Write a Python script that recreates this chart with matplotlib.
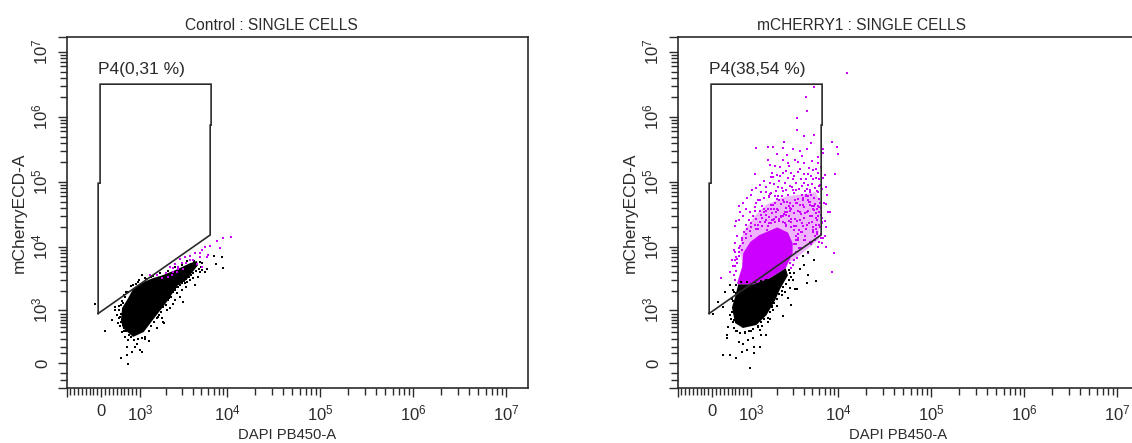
import numpy as np
import matplotlib
matplotlib.use("Agg")
import matplotlib.pyplot as plt
from matplotlib.ticker import FixedLocator, NullFormatter

plt.rcParams['font.family'] = ['Liberation Sans', 'DejaVu Sans']
plt.rcParams['mathtext.default'] = 'regular'

W, H = 1132, 443
INK = '#2b2b2b'
BLACK = '#000000'
MAGENTA = '#cc00ff'
PALE = '#f0b4ff'

# axis calibration (value -> pixels from axis start)
x_knots = [-900, 0, 1000, 1e4, 1e5, 1e6, 1e7, 1.7e7]
x_knot_px = [0, 34.5, 73.5, 160.5, 253.5, 346.5, 439.5, 460.5]
y_knots = [-470, -300, -150, 0, 100, 200, 300, 400, 500, 600, 700, 800, 900, 1000,
           1e4, 1e5, 1e6, 1e7, 1.7e7]
y_knot_px = [0, 8, 15, 25, 35, 41, 49, 56, 61, 65, 68, 71, 74.5, 78,
             141, 206, 271, 336, 351]

# gate P4 is the same on both plots
gate_x = [-75, -75, -25, -25, 6540, 6540, 6380, 6380, -75]
gate_y = [900, 96000, 96000, 3.2e6, 3.2e6, 7.5e5, 7.5e5, 15300, 900]

# control plot
ctrl_core_x = [820, 560, 510, 540, 670, 820, 1050, 1400, 1800, 2650, 3700, 4500, 4600,
               3400, 2650, 2300, 1950, 1600, 1400, 1100]
ctrl_core_y = [330, 480, 700, 1080, 1450, 2150, 2700, 3200, 3550, 4400, 5500, 6000, 5100,
               3000, 2400, 1750, 1250, 900, 700, 400]
ctrl_black_x = [-150, 100, 280, 360, 410, 440, 540, 620, 700, 670, 510, 670, 700, 790, 870,
                1000, 1050, 1250, 1130, 920, 1550, 1900, 1800, 2200, 2500, 3100, 2900, 2650,
                3400, 3250, 4300, 4600, 5500, 7500, 9000, 8700, 7000, 1050, 820, 620, 540, 360,
                480, 500, 450, 470, 590, 640, 760, 900, 980, 1180, 1320, 1480, 1620, 1720, 1850,
                2050, 2150, 2400, 2550, 2750, 3000, 3500, 3700, 4000, 4900, 5200, 5900, 600, 720,
                500, 470, 480, 520, 560, 600, 640, 720, 780, 850, 950, 1050, 1150, 1250, 1350,
                1450, 1550, 1650, 1750, 1850, 2000, 2100, 2250, 2400, 2500, 2650, 2850, 3000,
                3200, 3400, 3600, 3850, 4100, 4400, 4800, 5000, 5200, 4900, 4200, 3500, 3000,
                2500, 2100, 1700, 1400, 1150, 950, 760, 680, 600, 560]
ctrl_black_y = [1250, 420, 700, 1000, 850, 600, 400, 330, 290, 200, 50, 80, -10, 110, 200,
                150, 110, 270, 300, 240, 480, 600, 780, 1080, 1450, 1350, 1600, 1850,
                2350, 2700, 2450, 3350, 4000, 5400, 4600, 7000, 7300, 3550, 2500, 1600, 1400, 1100,
                520, 900, 1150, 760, 1750, 1950, 2400, 2600, 2950, 3050, 3350, 2950, 800, 1100, 620,
                1000, 1550, 1250, 2100, 2300, 2100, 2750, 3000, 3200, 4000, 4300, 4500, 420, 360,
                1200, 1000, 800, 620, 560, 480, 420, 430, 330, 290, 300, 320, 330, 420, 520,
                620, 780, 850, 950, 1100, 1180, 1450, 1600, 1900, 2150, 2300, 2500, 2650,
                2900, 3100, 3300, 3600, 3900, 4100, 4500, 4900, 5600, 5800, 6100, 5900, 5200,
                4800, 4200, 3800, 3500, 3200, 2800, 2400, 1900, 1700, 1300]
ctrl_mag_x = [11000, 9000, 7700, 6300, 5500, 8300, 5100, 6000, 4900, 4300, 3700, 3250, 2900, 2500,
              2200, 2400, 2700, 3000, 3400, 3700, 4000, 2100, 1800, 1550, 1300, 2000, 2300, 2650,
              3100, 2700, 2400, 5200, 5900, 4900, 4500]
ctrl_mag_y = [14300, 13700, 12500, 10300, 10000, 9700, 9000, 7400, 8000, 8000, 7200, 6900, 6400, 5400,
              4800, 4600, 4800, 5500, 5500, 6300, 6300, 3300, 3200, 3550, 3550, 3800, 3550, 4000,
              4400, 4400, 4000, 4800, 6900, 6900, 5400]

# mCHERRY1 plot
mch_core_x = [670, 1050, 1650, 2500, 2650, 2150, 1900, 1500, 1150, 790, 590, 510, 590]
mch_core_y = [2550, 2550, 3200, 4600, 3550, 2150, 1450, 850, 550, 480, 600, 1100, 1600]
mch_black_x = [280, 460, 620, 770, 900, 1080, 1270, 1080, 970, 380, 380, 410, 690, 790, 920, 1050,
               1300, 1500, 1250, 1550, 2300, 1800, 2900, 2650, 3200, 3400, 4400, 5500, 4500, 5300,
               3900, 4500, 4000, 3600, 150, 30, 280, 330, 460, 510, 460, 560, 620, 720, 850, 1000,
               1200, 1350, 1650, 1750, 2000, 2250, 2450, 2800, 3000, 3150,
               560, 500, 480, 530, 560, 640, 720, 850, 950, 1050, 1200, 1300, 1400, 1550, 1650,
               1750, 1850, 2000, 2100, 2250, 2350, 2500, 2700, 2850, 2800, 2700, 560, 540, 620,
               680, 620, 540, 750, 900, 1100, 1300, 1500]
mch_black_y = [80, 80, 50, 110, 150, 200, 200, 100, -70, 360, 320, 500, 260, 240, 290, 320,
               360, 360, 440, 620, 830, 1000, 1200, 1550, 2150, 2150, 2700, 2850, 3550, 6300,
               7200, 8300, 5100, 4400, 1350, 900, 1100, 1900, 2500, 1500, 850, 700, 420, 380, 410, 420,
               500, 520, 720, 1100, 1150, 1700, 1900, 2200, 3000, 3800,
               1200, 950, 750, 620, 480, 430, 380, 380, 420, 470, 520, 620, 720, 780, 950,
               1150, 1300, 1500, 1800, 2000, 2350, 2600, 3000, 3400, 3900, 4300, 1900, 1400, 1850,
               2200, 2500, 2100, 2800, 2800, 2800, 2900, 3000]
mch_dense_x = [640, 770, 800, 980, 1250, 2000, 2650, 3000, 3000, 2500, 1650, 1050, 670]
mch_dense_y = [2650, 4800, 8000, 12000, 15300, 20000, 16700, 11400, 8000, 4600, 3200, 2550, 2550]
mch_speckle_x = [700, 800, 1100, 1500, 2500, 4000, 5500, 6300, 6200, 6000, 3000, 800]
mch_speckle_y = [9000, 17000, 30000, 45000, 60000, 65000, 70000, 50000, 25000, 13000, 6000, 5000]
mch_mag_x = [12500, 5300, 4300, 4400, 3400, 3400, 4000, 5300, 2400, 4900, 8500, 9700, 10000, 1130, 1550,
             1800, 2300, 3000, 3600, 4400, 6700, 6700, 2000, 2300, 1550, 3200, 2650, 4000, 1650, 2150,
             5800, 3600, 2500, 5600, 1100, 1750, 4500, 7000, 9200, 1800, 2150, 3000, 5100, 1250, 1650,
             2050, 4100, 6200, 1030, 1500, 1900, 3100, 4700, 7500, 690, 980, 1250, 7300, 800, 590,
             620, 8000, 7300, 9000, 7300, 8500, 590, 540, 230, 460, 590,
             # speckled body
             760, 880, 1050, 1200, 1350, 1480, 1600, 1750, 1900, 2100, 2300, 2500, 2750, 2950, 3200,
             3500, 3800, 4100, 4400, 4700, 5000, 5300, 5600, 5900, 6200, 6400, 700, 820, 940, 1120,
             1280, 1420, 1560, 1700, 1850, 2000, 2200, 2450, 2650, 2900, 3100, 3350, 3650, 3950, 4250,
             4550, 4850, 5150, 5450, 5750, 6050, 6350, 1000, 1150, 1330, 1520, 1680, 1830, 2050, 2250,
             2400, 2600, 2850, 3050, 3300, 3550, 3900, 4200, 4600, 4950, 5350, 5700, 6100, 1400, 1620,
             1950, 2150, 2350, 2550, 2800, 3250, 3600, 3850, 4300, 4800, 5200, 5550, 6000, 6300, 1100,
             1300, 1480, 1800, 1900, 2200, 2700, 3150, 3450, 3750, 4050, 4500, 5100, 5800, 6600, 6700,
             # edge of the solid part
             600, 560, 620, 580, 650, 640, 700, 680, 760, 720, 800, 780, 880, 860, 960, 1000, 1150,
             1200, 1350, 1450, 1600, 1750, 1900, 2100, 2300, 2500, 2700, 2900, 3100, 3300, 3250, 3500,
             3300, 3550, 3300, 3400, 3100, 3050, 2900, 2800,
             # more of the speckled body
             1300, 1700, 2200, 2600, 3000, 3400, 3700, 4000, 4400, 4800, 5200, 5600, 6100, 6500, 1000,
             1250, 1500, 1800, 2100, 2450, 2800, 3200, 3600, 3950, 4350, 4700, 5100, 5500, 5900, 6300,
             1150, 1550, 1950, 2350, 2750, 3150, 3500, 3900, 4250, 4650, 5050, 5400, 5800, 6200, 6600,
             900, 1100, 1400, 1700, 2050, 2500, 2900, 3300, 3750, 4150, 4550, 4950, 5300, 5700, 6000,
             1200, 1600, 2000, 2400, 2800, 3100, 3450, 3800, 4200, 4500, 4900, 5250, 5650, 6050, 6450,
             # upper band and outer fringe
             1000, 1150, 1300, 1400, 1500, 1650, 1700, 1850, 1950, 2000, 2100, 2250, 2350, 2450, 2550,
             2650, 2800, 2900, 3000, 3150, 3300, 3450, 3550, 3700, 3850, 4000, 4150, 4300, 4450, 4600,
             4750, 4900, 5050, 5200, 5350, 5500, 5650, 5800, 5950, 6100, 6300, 6450, 6700, 7200, 7600,
             7000, 6900, 7100, 1900, 2750, 3500, 5000, 5900, 2600, 3800, 800, 880, 680, 720, 640,
             600, 560, 620, 520, 900]
mch_mag_y = [4.8e6, 2.9e6, 2e6, 1.25e6, 9.7e5, 6.2e5, 5.1e5, 5.3e5, 4.1e5, 4e5, 4.1e5, 3.4e5, 2.7e5, 3.3e5, 3.4e5,
             3.4e5, 3.3e5, 3.2e5, 3e5, 3.2e5, 3.2e5, 2.8e5, 2.7e5, 2.2e5, 2.2e5, 2.2e5, 1.95e5, 1.95e5, 1.8e5, 1.7e5,
             1.95e5, 1.6e5, 1.5e5, 1.6e5, 1.35e5, 1.4e5, 1.35e5, 1.3e5, 1.35e5, 1.2e5, 1.25e5, 1.1e5, 1.1e5, 9e4, 9.7e4,
             8.5e4, 9.7e4, 9e4, 7.5e4, 7e4, 6e4, 6.7e4, 7e4, 6.4e4, 4.2e4, 3.4e4, 5.3e4, 4.6e4, 3e4, 2.1e4,
             2.5e4, 3.4e4, 2e4, 8000, 1e4, 4000, 8300, 5000, 3200, 4000, 6300,
             # speckled body
             14000, 22000, 30000, 19000, 42000, 26000, 58000, 33000, 47000, 25000, 72000, 40000, 30000, 85000, 52000,
             36000, 62000, 28000, 78000, 44000, 24000, 56000, 33000, 70000, 20000, 40000, 9500, 17000, 26000, 36000,
             24000, 34000, 21000, 68000, 38000, 55000, 46000, 23000, 64000, 38000, 21000, 48000, 26000, 53000, 19000,
             36000, 64000, 17000, 46000, 26000, 55000, 14000, 15000, 47000, 28000, 18000, 45000, 27000, 37000, 60000,
             32000, 50000, 24000, 42000, 75000, 18000, 44000, 15000, 50000, 30000, 13000, 38000, 22000, 39000, 60000,
             29000, 15000, 52000, 21000, 40000, 13000, 34000, 17000, 60000, 12000, 42000, 22000, 12000, 31000, 22000,
             13000, 36000, 26000, 17000, 30000, 9000, 11000, 14000, 9500, 13000, 8000, 18000, 10000, 11500, 14000,
             # edge of the solid part
             3000, 3600, 4200, 5000, 5600, 6500, 7200, 8300, 9000, 10500, 11500, 13000, 14000, 16000, 17500, 20000, 19000,
             22000, 21000, 24000, 23000, 26000, 24500, 27000, 24000, 22000, 25000, 20000, 18000, 21000, 15000, 13000,
             11000, 9500, 8200, 6800, 6200, 5200, 4700, 5600,
             # more of the speckled body
             31000, 39000, 29000, 34000, 43000, 25000, 32000, 41000, 22000, 30000, 20000, 28000, 35000, 24000, 23000,
             36000, 31000, 44000, 52000, 35000, 48000, 27000, 44000, 57000, 34000, 49000, 38000, 19000, 43000, 16000,
             27000, 38000, 34000, 30000, 42000, 33000, 54000, 21000, 62000, 23000, 43000, 15000, 30000, 48000, 23000,
             19000, 41000, 57000, 23000, 61000, 31000, 27000, 47000, 17000, 33000, 52000, 12000, 37000, 17000, 41000,
             52000, 29000, 39000, 50000, 36000, 68000, 16000, 23000, 13000, 60000, 11000, 42000, 16000, 35000, 28000,
             # upper band and outer fringe
             6.2e4, 8e4, 7e4, 1.05e5, 8.5e4, 6.6e4, 1.2e5, 9.2e4, 7.2e4, 1.3e5, 1.05e5, 8.2e4, 1.4e5, 9.6e4, 7.6e4,
             1.15e5, 8.8e4, 1.4e5, 7.4e4, 1.25e5, 9.5e4, 1.45e5, 7.8e4, 1.1e5, 8.6e4, 1.35e5, 7.2e4, 1.1e5, 9e4, 1.65e5,
             7.6e4, 1.25e5, 9.2e4, 1.55e5, 8e4, 1.15e5, 7.2e4, 1.4e5, 8.6e4, 1.1e5, 1.7e5, 7.8e4, 1.15e5, 8.5e4, 3.4e4,
             2.5e4, 4.8e4, 1.5e4, 1.75e5, 1.75e5, 2e5, 2.1e5, 2.4e5, 2.6e5, 2.5e5, 4.8e4, 3.8e4, 2.6e4, 3.4e4, 1.5e4,
             1.15e4, 9e3, 7e3, 6.2e3, 5.6e4]


def to_u(v):
    v = np.asarray(v, dtype=float)
    a = np.abs(v)
    return np.where(a <= 1000, v / 1000, np.sign(v) * (1 + np.log10(np.maximum(a, 1000) / 1000)))


def from_u(u):
    u = np.asarray(u, dtype=float)
    a = np.abs(u)
    return np.where(a <= 1, u * 1000, np.sign(u) * 1000 * 10 ** (a - 1))


def make_scale(knots, knot_px):
    uk = to_u(knots)
    return (lambda v: np.interp(to_u(v), uk, knot_px),
            lambda p: from_u(np.interp(p, knot_px, uk)))


decade_minor = [m * 10 ** k for k in range(3, 7) for m in range(2, 10)]
x_major = [-900, 0, 1e3, 1e4, 1e5, 1e6, 1e7]
x_labels = ['', '0', '$10^{3}$', '$10^{4}$', '$10^{5}$', '$10^{6}$', '$10^{7}$']
x_minor = [v for v in range(-800, 1000, 100) if v != 0] + decade_minor
y_major = [-470, 0, 1e3, 1e4, 1e5, 1e6, 1e7, 1.7e7]
y_labels = ['', '0', '$10^{3}$', '$10^{4}$', '$10^{5}$', '$10^{6}$', '$10^{7}$', '']
y_minor = [-300, -150] + list(range(100, 1000, 100)) + decade_minor


def px_text(x, y, s, **kw):
    fig.text(x / W, 1 - y / H, s, color=INK, ha='center', va='center', **kw)


def draw_panel(left, title, title_cx, gate_label, gate_label_x):
    ax = fig.add_axes([left / W, (H - 388) / H, 461 / W, 351 / H])
    ax.set_xscale('function', functions=make_scale(x_knots, x_knot_px))
    ax.set_yscale('function', functions=make_scale(y_knots, y_knot_px))
    ax.set_xlim(-900, 1.7e7)
    ax.set_ylim(-470, 1.7e7)
    ax.xaxis.set_major_locator(FixedLocator(x_major))
    ax.xaxis.set_minor_locator(FixedLocator(x_minor))
    ax.yaxis.set_major_locator(FixedLocator(y_major))
    ax.yaxis.set_minor_locator(FixedLocator(y_minor))
    ax.set_xticklabels(x_labels, fontsize=12, color=INK)
    ax.set_yticklabels(y_labels, fontsize=12, color=INK, rotation=90, va='center')
    ax.xaxis.set_minor_formatter(NullFormatter())
    ax.yaxis.set_minor_formatter(NullFormatter())
    ax.tick_params(which='major', length=6.5, width=1, color=INK, pad=5)
    ax.tick_params(which='minor', length=5, width=1, color=INK)
    for s in ax.spines.values():
        s.set_linewidth(1.2)
        s.set_color(INK)
    ax.plot(gate_x, gate_y, color=INK, lw=1.2, zorder=5, solid_joinstyle='miter')
    ax.text(gate_label_x, 5.3e6, gate_label, fontsize=12.5, color=INK, ha='left', va='center')
    px_text(left + title_cx, 25, title, fontsize=11.2)
    px_text(left + 221, 435, 'DAPI PB450-A', fontsize=10.7)
    px_text(left - 47, 213, 'mCherryECD-A', fontsize=12.5, rotation=90)
    return ax


fig = plt.figure(figsize=(W / 100, H / 100), dpi=100)

ax1 = draw_panel(66.5, 'Control : SINGLE CELLS', 205, 'P4(0,31 %)', -70)
ax1.fill(ctrl_core_x, ctrl_core_y, color=BLACK, lw=0, zorder=2)
ax1.scatter(ctrl_black_x, ctrl_black_y, s=2.6, marker='s', color=BLACK, linewidths=0, zorder=3)
ax1.scatter(ctrl_mag_x, ctrl_mag_y, s=2.6, marker='s', color=MAGENTA, linewidths=0, zorder=4)

ax2 = draw_panel(677.5, 'mCHERRY1 : SINGLE CELLS', 184, 'P4(38,54 %)', -70)
ax2.fill(mch_speckle_x, mch_speckle_y, color=PALE, lw=0, zorder=1)
ax2.fill(mch_dense_x, mch_dense_y, color=MAGENTA, lw=0, zorder=2)
ax2.fill(mch_core_x, mch_core_y, color=BLACK, lw=0, zorder=3)
ax2.scatter(mch_mag_x, mch_mag_y, s=2.6, marker='s', color=MAGENTA, linewidths=0, zorder=2)
ax2.scatter(mch_black_x, mch_black_y, s=2.6, marker='s', color=BLACK, linewidths=0, zorder=3)

fig.savefig('out.png', dpi=100)
